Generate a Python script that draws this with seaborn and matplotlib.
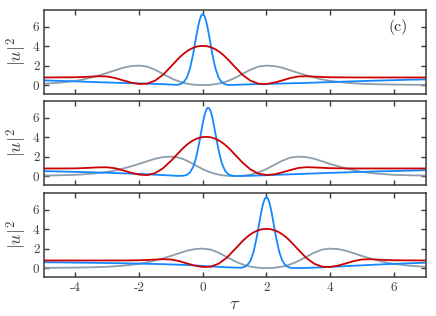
import matplotlib
matplotlib.use("Agg")
import matplotlib.pyplot as plt
import pandas as pd
import seaborn as sns

# ---------------- data ----------------
tau_a = [-5, -4.5, -4, -3.75, -3.5, -3.25, -3, -2.75, -2.5, -2.25, -2, -1.75, -1.5, -1.25,
         -1.0, -0.9, -0.8, -0.7, -0.6, -0.5, -0.4, -0.3,
         -0.25, -0.2, -0.15, -0.1, -0.05, 0.0, 0.05, 0.1, 0.15, 0.2, 0.25, 0.3, 0.35, 0.4,
         0.5, 0.6, 0.7, 0.8, 0.9, 1.0,
         1.25, 1.5, 1.75, 2.0, 2.25, 2.5, 2.75, 3.0, 3.25, 3.5, 3.75,
         4.0, 4.5, 5.0, 5.5, 6.0, 6.5, 7.0]

blue1 = [0.48, 0.43, 0.38, 0.35, 0.32, 0.29, 0.27, 0.24, 0.21, 0.19, 0.17, 0.15, 0.12, 0.09,
         0.05, 0.03, 0.02, 0.10, 0.30, 0.75, 1.70, 3.22,
         4.14, 5.07, 5.95, 6.66, 7.14, 7.30, 7.14, 6.66, 5.95, 5.07, 4.14, 3.22, 2.40, 1.70,
         0.75, 0.28, 0.08, 0.01, 0.01, 0.02,
         0.05, 0.08, 0.10, 0.12, 0.14, 0.16, 0.18, 0.20, 0.22, 0.25, 0.28,
         0.30, 0.36, 0.41, 0.46, 0.50, 0.55, 0.58]
red1 = [0.78, 0.79, 0.80, 0.83, 0.87, 0.91, 0.88, 0.72, 0.48, 0.25, 0.11, 0.14, 0.45, 1.05,
        1.90, 2.25, 2.60, 2.93, 3.22, 3.47, 3.67, 3.83,
        3.89, 3.94, 3.98, 4.01, 4.02, 4.03, 4.02, 4.01, 3.98, 3.94, 3.89, 3.83, 3.75, 3.67,
        3.47, 3.22, 2.93, 2.60, 2.25, 1.90,
        1.05, 0.45, 0.14, 0.11, 0.25, 0.48, 0.72, 0.88, 0.91, 0.87, 0.83,
        0.80, 0.79, 0.78, 0.78, 0.78, 0.78, 0.78]
gray1 = [0.13, 0.24, 0.43, 0.58, 0.78, 1.00, 1.25, 1.52, 1.78, 1.95, 2.00, 1.90, 1.58, 1.15,
         0.72, 0.57, 0.44, 0.32, 0.23, 0.15, 0.09, 0.05,
         0.03, 0.02, 0.01, 0.005, 0.0, 0.0, 0.0, 0.005, 0.01, 0.02, 0.03, 0.05, 0.07, 0.09,
         0.15, 0.23, 0.32, 0.44, 0.57, 0.72,
         1.15, 1.58, 1.90, 2.00, 1.95, 1.78, 1.52, 1.25, 1.00, 0.78, 0.58,
         0.43, 0.24, 0.13, 0.08, 0.05, 0.03, 0.02]

blue2 = [0.51, 0.47, 0.43, 0.41, 0.39, 0.36, 0.34, 0.31, 0.28, 0.25, 0.22, 0.18, 0.14, 0.10,
         0.06, 0.04, 0.02, 0.02, 0.04, 0.12, 0.37, 0.95,
         1.42, 2.03, 2.78, 3.63, 4.54, 5.42, 6.18, 6.74, 7.02, 6.99, 6.65, 6.05, 5.25, 4.36,
         2.62, 1.31, 0.55, 0.19, 0.06, 0.01,
         0.01, 0.03, 0.06, 0.09, 0.12, 0.15, 0.18, 0.21, 0.24, 0.27, 0.30,
         0.33, 0.38, 0.43, 0.48, 0.52, 0.56, 0.60]
red2 = [0.78, 0.78, 0.79, 0.82, 0.86, 0.90, 0.90, 0.80, 0.58, 0.34, 0.15, 0.10, 0.30, 0.80,
        1.56, 1.90, 2.25, 2.60, 2.93, 3.22, 3.47, 3.67,
        3.75, 3.83, 3.89, 3.94, 3.98, 4.01, 4.02, 4.03, 4.02, 4.01, 3.98, 3.94, 3.89, 3.83,
        3.67, 3.47, 3.22, 2.93, 2.60, 2.25,
        1.39, 0.68, 0.25, 0.10, 0.18, 0.38, 0.62, 0.83, 0.91, 0.89, 0.85,
        0.81, 0.79, 0.78, 0.78, 0.78, 0.78, 0.78]
gray2 = [0.05, 0.08, 0.13, 0.18, 0.24, 0.33, 0.43, 0.58, 0.78, 1.00, 1.25, 1.52, 1.78, 1.95,
         2.00, 1.97, 1.93, 1.85, 1.72, 1.58, 1.41, 1.24,
         1.15, 1.06, 0.97, 0.89, 0.80, 0.72, 0.64, 0.57, 0.50, 0.44, 0.38, 0.32, 0.27, 0.23,
         0.15, 0.09, 0.05, 0.02, 0.005, 0.0,
         0.03, 0.15, 0.38, 0.72, 1.15, 1.58, 1.90, 2.00, 1.95, 1.78, 1.52,
         1.25, 0.78, 0.43, 0.24, 0.13, 0.08, 0.05]

tau_b = [-5, -4.5, -4, -3.5, -3, -2.5, -2, -1.75, -1.5, -1.25, -1.0, -0.75, -0.5, -0.25,
         0.0, 0.25, 0.5, 0.75,
         1.0, 1.1, 1.2, 1.3, 1.4, 1.5, 1.6, 1.7,
         1.75, 1.8, 1.85, 1.9, 1.95, 2.0, 2.05, 2.1, 2.15, 2.2, 2.25,
         2.3, 2.4, 2.5, 2.6, 2.7, 2.8, 2.9, 3.0,
         3.25, 3.5, 3.75, 4.0, 4.25, 4.5, 4.75, 5.0, 5.25, 5.5, 5.75,
         6.0, 6.5, 7.0]
blue3 = [0.60, 0.58, 0.56, 0.54, 0.52, 0.49, 0.46, 0.44, 0.42, 0.40, 0.37, 0.34, 0.31, 0.27,
         0.22, 0.17, 0.12, 0.08,
         0.05, 0.04, 0.03, 0.10, 0.30, 0.75, 1.70, 3.22,
         4.14, 5.07, 5.95, 6.66, 7.14, 7.30, 7.14, 6.66, 5.95, 5.07, 4.14,
         3.22, 1.70, 0.75, 0.28, 0.08, 0.01, 0.00, 0.00,
         0.01, 0.04, 0.08, 0.12, 0.16, 0.20, 0.24, 0.28, 0.32, 0.36, 0.40,
         0.43, 0.49, 0.55]
red3 = [0.78, 0.78, 0.78, 0.78, 0.78, 0.78, 0.80, 0.83, 0.87, 0.91, 0.88, 0.72, 0.48, 0.25,
        0.11, 0.14, 0.45, 1.05,
        1.90, 2.25, 2.60, 2.93, 3.22, 3.47, 3.67, 3.83,
        3.89, 3.94, 3.98, 4.01, 4.02, 4.03, 4.02, 4.01, 3.98, 3.94, 3.89,
        3.83, 3.67, 3.47, 3.22, 2.93, 2.60, 2.25, 1.90,
        1.05, 0.45, 0.14, 0.11, 0.25, 0.48, 0.72, 0.88, 0.91, 0.87, 0.83,
        0.80, 0.79, 0.78]
gray3 = [0.02, 0.03, 0.05, 0.08, 0.13, 0.24, 0.43, 0.58, 0.78, 1.00, 1.25, 1.52, 1.78, 1.95,
         2.00, 1.90, 1.58, 1.15,
         0.72, 0.57, 0.44, 0.32, 0.23, 0.15, 0.09, 0.05,
         0.03, 0.02, 0.01, 0.005, 0.0, 0.0, 0.0, 0.005, 0.01, 0.02, 0.03,
         0.05, 0.09, 0.15, 0.23, 0.32, 0.44, 0.57, 0.72,
         1.15, 1.58, 1.90, 2.00, 1.95, 1.78, 1.52, 1.25, 1.00, 0.78, 0.58,
         0.43, 0.24, 0.13]

x_ticks = [-4, -2, 0, 2, 4, 6]
x_tick_labels = ["-4", "-2", "0", "2", "4", "6"]
y_ticks = [0, 2, 4, 6]
y_tick_labels = ["0", "2", "4", "6"]
panel_label = "(c)"

# ---------------- style ----------------
sns.set_theme(style="white")
plt.rcParams.update({
    "font.family": ["cmr10", "DejaVu Serif"],
    "mathtext.fontset": "cm",
    "axes.formatter.use_mathtext": True,
    "axes.unicode_minus": False,
})

palette = {"gray": "#8d9dab", "blue": "#1487ff", "red": "#cc0000"}
edge = "#3a3a3a"
txt = "#404040"

fig = plt.figure(figsize=(4.36, 3.16), dpi=100)
rects = [(0.100, 0.7016, 0.876, 0.2677),
         (0.100, 0.4136, 0.876, 0.2677),
         (0.100, 0.1225, 0.876, 0.2677)]
panels = [(tau_a, gray1, blue1, red1),
          (tau_a, gray2, blue2, red2),
          (tau_b, gray3, blue3, red3)]

for i, (rect, (tau, g, b, r)) in enumerate(zip(rects, panels)):
    ax = fig.add_axes(rect)
    n = len(tau)
    df = pd.DataFrame({
        "tau": list(tau) * 3,
        "val": list(g) + list(b) + list(r),
        "series": ["gray"] * n + ["blue"] * n + ["red"] * n,
    })
    sns.lineplot(data=df, x="tau", y="val", hue="series",
                 hue_order=["gray", "blue", "red"], palette=palette,
                 estimator=None, sort=False, legend=False, ax=ax, linewidth=1.3)
    ax.set_xlim(-5, 7)
    ax.set_ylim(-0.95, 7.75)
    ax.set_xticks(x_ticks)
    ax.set_yticks(y_ticks)
    ax.set_yticklabels(y_tick_labels)
    if i == 2:
        ax.set_xticklabels(x_tick_labels)
        ax.set_xlabel(r"$\tau$", fontsize=13, color=txt, labelpad=2)
    else:
        ax.set_xticklabels([])
        ax.set_xlabel("")
    ax.set_ylabel(r"$|u|^2$", fontsize=13, color=txt, labelpad=3)
    ax.tick_params(direction="in", top=True, right=True, bottom=True, left=True,
                   length=3.5, width=1.0, color=edge, labelsize=9.5, labelcolor=txt, pad=3)
    for s in ax.spines.values():
        s.set_color(edge)
        s.set_linewidth(1.1)
    ax.grid(False)
    if i == 0:
        ax.text(6.15, 6.0, panel_label, fontsize=11.5, color="#303030",
                ha="center", va="center")

fig.savefig("out.png", dpi=100)
